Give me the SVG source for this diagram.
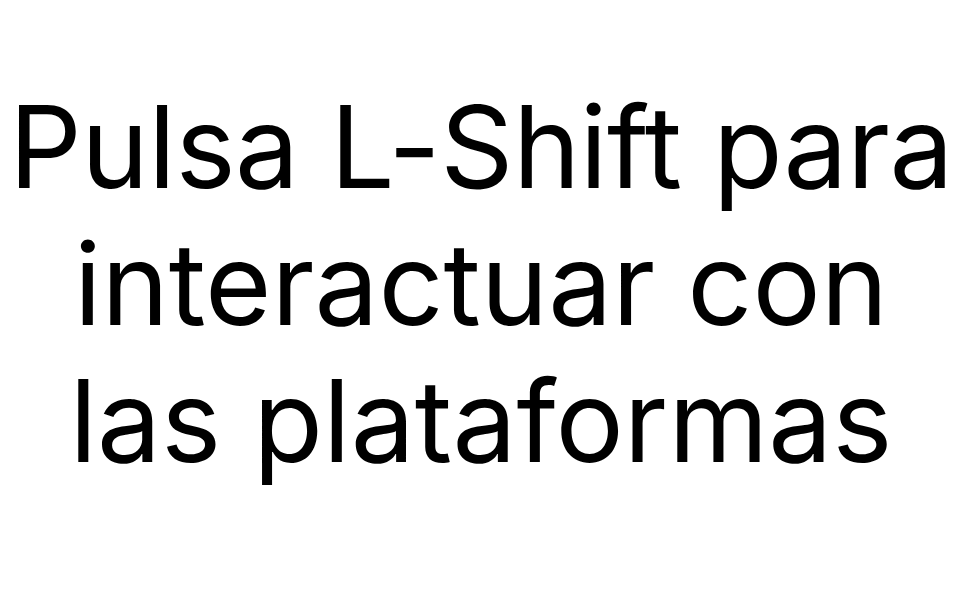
<svg xmlns="http://www.w3.org/2000/svg" width="962" height="598" viewBox="0 0 962 598">
<style>
.t{font-family:Inter,"Liberation Sans",sans-serif;font-size:114px;font-weight:400;fill:#000;text-anchor:middle}
</style>
<rect width="962" height="598" fill="#fff"/>
<g id="caption">
<text class="t" x="481" y="188" letter-spacing="-0.5">Pulsa L-Shift para</text>
<text class="t" x="481" y="325">interactuar con</text>
<text class="t" x="481" y="462">las plataformas</text>
</g>
</svg>
